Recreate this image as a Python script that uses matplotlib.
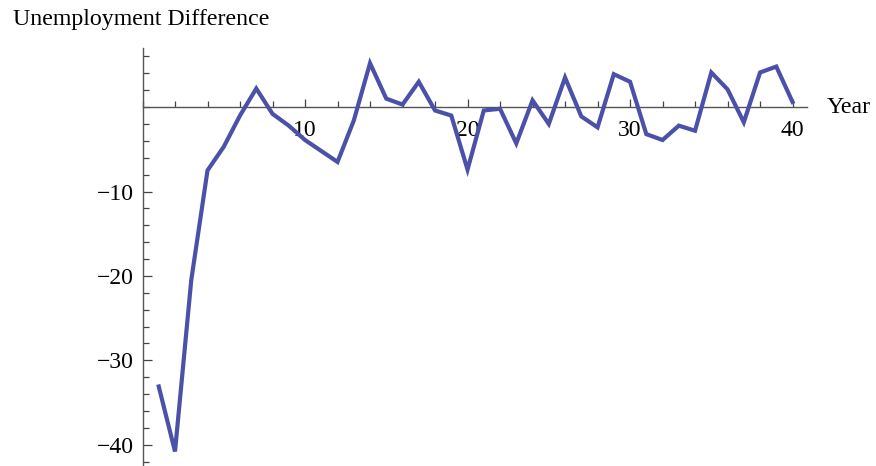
import matplotlib.pyplot as plt
from matplotlib.ticker import MultipleLocator, FixedLocator

# Yearly unemployment difference, years 1..40
years = list(range(1, 41))
diff = [-33.1, -40.8, -20.5, -7.5, -4.7, -1.0, 2.2, -0.8, -2.2, -3.9,
        -5.2, -6.5, -1.6, 5.2, 1.0, 0.3, 3.0, -0.4, -1.0, -7.4,
        -0.4, -0.2, -4.3, 0.8, -2.0, 3.5, -1.1, -2.4, 3.9, 3.0,
        -3.2, -3.9, -2.2, -2.8, 4.1, 2.1, -1.8, 4.1, 4.8, 0.6]
x_major = [10, 20, 30, 40]
y_major = [-40, -30, -20, -10]

plt.rcParams['font.family'] = ['Liberation Serif', 'DejaVu Serif']
plt.rcParams['axes.unicode_minus'] = True

fig = plt.figure(figsize=(8.76, 4.66), dpi=100)
ax = fig.add_axes([142.5 / 876, 1 - 465 / 466, (806.7 - 142.5) / 876, (465 - 48) / 466])

ax.plot(years, diff, color='#4b50a8', lw=3.0, solid_joinstyle='miter',
        clip_on=False, zorder=3)

ax.set_xlim(0, 40.87)
ax.set_ylim(-42.4, 7.0)

# axes cross at the origin, Mathematica style
for side in ['top', 'right']:
    ax.spines[side].set_visible(False)
ax.spines['left'].set_position(('data', 0))
ax.spines['bottom'].set_position(('data', 0))
for side in ['left', 'bottom']:
    ax.spines[side].set_color('#555555')
    ax.spines[side].set_linewidth(1.0)

ax.xaxis.set_major_locator(FixedLocator(x_major))
ax.xaxis.set_minor_locator(MultipleLocator(2))
ax.yaxis.set_major_locator(FixedLocator(y_major))
ax.yaxis.set_minor_locator(MultipleLocator(2))
ax.set_xticklabels([str(v) for v in x_major])
ax.set_yticklabels(['\u2212' + str(-v) for v in y_major])

ax.tick_params(axis='x', which='major', direction='in', length=5.5, width=0.9,
               color='#444444', pad=9, labelsize=17)
ax.tick_params(axis='x', which='minor', direction='in', length=4, width=0.9,
               color='#444444')
ax.tick_params(axis='y', which='major', direction='in', length=6.5, width=0.9,
               color='#444444', pad=6, labelsize=17)
ax.tick_params(axis='y', which='minor', direction='in', length=4, width=0.9,
               color='#444444')

fig.text(13 / 876, 1 - 25 / 466, 'Unemployment Difference', fontsize=17.2,
         ha='left', va='baseline')
fig.text(827 / 876, 1 - 113 / 466, 'Year', fontsize=17.2, ha='left', va='baseline')

fig.savefig('out.png', dpi=100)
